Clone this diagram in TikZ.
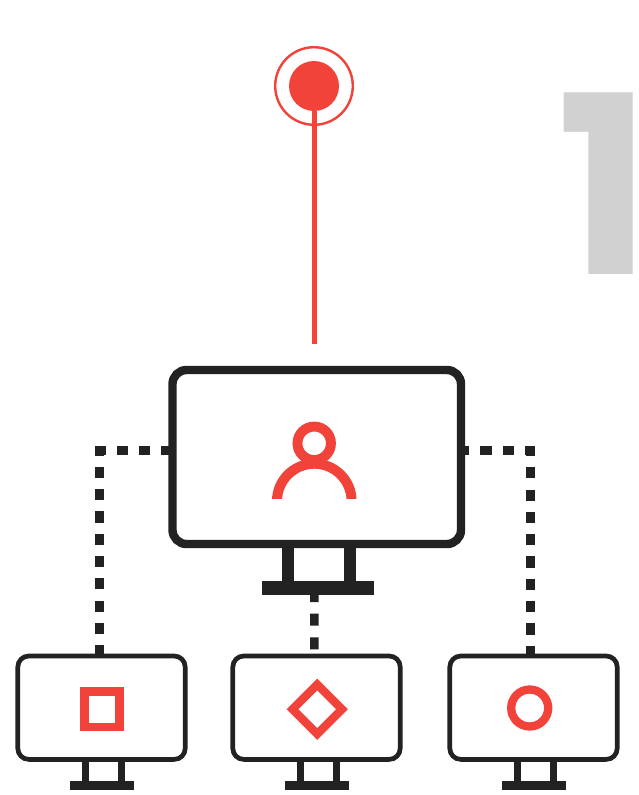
\documentclass[tikz,border=0pt]{standalone}
\usepackage{fontspec}
\newfontfamily\numfont{Poppins}
\definecolor{alertred}{HTML}{F2433A}
\definecolor{screendark}{HTML}{222222}
\definecolor{numgray}{HTML}{D1D1D1}
\tikzset{
  mainscreen/.style={draw=screendark, line width=8.4pt, rounded corners=14pt, outer sep=0pt, inner sep=0pt, minimum width=288.5pt, minimum height=174pt},
  smallscreen/.style={draw=screendark, line width=4.7pt, rounded corners=11pt, outer sep=0pt, inner sep=0pt, minimum width=167.4pt, minimum height=103.4pt},
  standbase/.style={fill=screendark, outer sep=0pt, inner sep=0pt},
  link/.style={draw=screendark, dash pattern=on 11.2pt off 11.1pt},
  redicon/.style={draw=alertred, line width=8.3pt, outer sep=0pt, inner sep=0pt}
}
\begin{document}
\begin{tikzpicture}[x=1pt,y=-1pt]
\useasboundingbox (0,0) rectangle (638,795);
% number
\node[anchor=base, inner sep=0pt, text=numgray] (bignum) at (604.3,274) {\numfont\bfseries\fontsize{249}{249}\selectfont 1};
% target and line
\node[circle, draw=alertred, line width=2.4pt, minimum size=77.6pt, inner sep=0pt, outer sep=0pt] (targetring) at (314,86) {};
\node[circle, fill=alertred, minimum size=50pt, inner sep=0pt, outer sep=0pt] (targetdisc) at (314,86) {};
\coordinate (targetend) at (314.8,344);
\draw[alertred, line width=5pt] ([xshift=.8pt]targetdisc.south) -- (targetend);
% main monitor
\node[mainscreen] (mainmon) at (316.75,457) {};
\node[standbase, minimum width=111.7pt, minimum height=14pt] (mainbase) at (317.85,588) {};
\draw[screendark, line width=11.5pt] ([xshift=-28.75pt]mainmon.south) -- ([xshift=-29.85pt]mainbase.north)
      ([xshift=33.25pt]mainmon.south) -- ([xshift=32.15pt]mainbase.north);
\node[circle, draw=alertred, line width=9.9pt, minimum size=33.5pt, inner sep=0pt, outer sep=0pt] (head) at (314.2,443.3) {};
\begin{scope}
  \clip (265,450) rectangle (365,498.3);
  \draw[alertred, line width=10pt] (314.3,501) circle (37.3);
\end{scope}
% small monitors
\foreach \name/\xpos in {leftmon/101.5,midmon/316.5,rightmon/533.5}{
  \node[smallscreen] (\name) at (\xpos,707.7) {};
  \node[standbase, minimum width=64.5pt, minimum height=9pt] (\name base) at (\xpos+.5,785.5) {};
  \draw[screendark, line width=7pt] ([xshift=-16.4pt]\name.south) -- ([xshift=-16.9pt]\name base.north)
        ([xshift=19.5pt]\name.south) -- ([xshift=19pt]\name base.north);
}
\node[redicon, minimum width=35pt, minimum height=35.5pt] (squareicon) at (102,709.3) {};
\node[redicon, rotate=45, minimum size=35pt] (diamondicon) at (317.2,709.2) {};
\node[redicon, circle, minimum size=37pt] (circleicon) at (529.7,708) {};
% links
\draw[link, line width=9pt] ([yshift=6.5pt]mainmon.west) -| ([xshift=-2pt]leftmon.north);
\draw[link, line width=9pt, dash phase=3pt] ([yshift=6.5pt]mainmon.east) -| ([xshift=-3pt]rightmon.north);
\draw[screendark, line width=8.5pt, dash pattern=on 12pt off 11.7pt] ([xshift=-3.5pt,yshift=5pt]mainbase.south) -- ([xshift=-2.2pt]midmon.north);
\end{tikzpicture}
\end{document}
